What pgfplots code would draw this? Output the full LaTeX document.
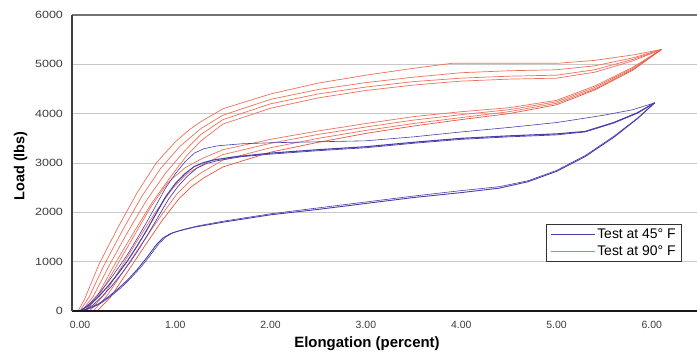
\documentclass[border=0pt]{standalone}
\usepackage{fontspec}
\setmainfont{Liberation Sans}
\usepackage{pgfplots}
\pgfplotsset{compat=1.18}
\definecolor{bl}{RGB}{72,62,172}
\definecolor{rd}{RGB}{238,112,90}
\definecolor{rdd}{RGB}{230,85,65}
\definecolor{gridc}{RGB}{200,200,200}
\definecolor{tickc}{RGB}{60,60,60}
\begin{document}
\begin{tikzpicture}
\useasboundingbox (-72bp,-43bp) rectangle (625bp,311bp);
\begin{axis}[
  at={(0,0)}, anchor=south west,
  scale only axis, width=625bp, height=296bp,
  xmin=-0.084, xmax=6.474, ymin=0, ymax=6000,
  clip=false,
  axis line style={draw=none},
  xtick={0,1,2,3,4,5,6},
  xticklabels={0.00,1.00,2.00,3.00,4.00,5.00,6.00},
  ytick={0,1000,2000,3000,4000,5000,6000},
  yticklabels={0,1000,2000,3000,4000,5000,6000},
  major tick length=0pt,
  ymajorgrids, grid style={color=gridc, line width=0.9bp},
  xticklabel style={font=\fontsize{10.5}{12}\selectfont, text=tickc, yshift=-7bp},
  yticklabel style={font=\fontsize{10.5}{12}\selectfont, text=tickc, xscale=1.2, xshift=-4bp},
  xlabel={Elongation (percent)},
  ylabel={Load (lbs)},
  xlabel style={font=\fontsize{15}{17}\selectfont\bfseries, at={(axis description cs:0.472,-0.085)}, anchor=north, inner sep=0pt},
  ylabel style={font=\fontsize{14.5}{17}\selectfont\bfseries, at={(axis description cs:-0.082,0.49)}, anchor=center, rotate=0},
  legend style={at={(0.976,0.294)}, anchor=north east, draw=black!80, line width=0.6bp,
    font=\fontsize{14}{15}\selectfont, inner xsep=4bp, inner ysep=2.5bp, row sep=2bp, cells={anchor=west}},
  legend image code/.code={\draw[#1, line width=1.3bp] (0bp,0bp) -- (44bp,0bp);},
]
% ---- Test at 90 F (upper band) ----
\addplot[rd, line width=0.7bp, forget plot] coordinates {(-0.02,0)(0.05,250)(0.2,950)(0.4,1700)(0.6,2400)(0.8,3000)(1.0,3430)(1.15,3680)(1.27,3840)(1.5,4100)(2.0,4400)(2.5,4620)(3.0,4780)(3.5,4920)(3.9,5020)(4.5,5020)(5.0,5020)(5.4,5080)(5.8,5190)(6.1,5300)};
\addplot[rd, line width=0.7bp, forget plot] coordinates {(0.0,0)(0.1,300)(0.25,920)(0.45,1650)(0.65,2330)(0.85,2900)(1.05,3340)(1.27,3700)(1.5,3970)(2.0,4290)(2.5,4490)(3.0,4630)(3.5,4740)(4.0,4830)(4.5,4870)(5.0,4890)(5.4,4970)(5.8,5130)(6.1,5300)};
\addplot[rd, line width=0.7bp, forget plot] coordinates {(0.02,0)(0.14,300)(0.3,900)(0.5,1600)(0.7,2250)(0.9,2800)(1.1,3250)(1.27,3580)(1.5,3880)(2.0,4200)(2.5,4400)(3.0,4540)(3.5,4650)(4.0,4720)(4.5,4760)(5.0,4780)(5.4,4890)(5.8,5100)(6.1,5300)};
\addplot[rd, line width=0.7bp, forget plot] coordinates {(0.05,0)(0.18,300)(0.35,900)(0.55,1550)(0.75,2180)(0.95,2720)(1.12,3150)(1.27,3450)(1.5,3790)(2.0,4110)(2.5,4320)(3.0,4470)(3.5,4580)(4.0,4660)(4.5,4700)(5.0,4720)(5.4,4840)(5.8,5070)(6.1,5300)};
% ---- Test at 90 F (lower band) ----
\addplot[rd, line width=0.7bp, forget plot] coordinates {(0.06,0)(0.2,320)(0.38,900)(0.56,1500)(0.74,2100)(0.92,2600)(1.1,2900)(1.27,3080)(1.5,3270)(2.0,3480)(2.5,3650)(3.0,3800)(3.5,3940)(4.0,4040)(4.5,4120)(5.0,4270)(5.4,4560)(5.8,4940)(6.1,5300)};
\addplot[rd, line width=0.7bp, forget plot] coordinates {(0.1,0)(0.25,320)(0.43,880)(0.61,1450)(0.79,2000)(0.97,2480)(1.12,2780)(1.27,2950)(1.5,3170)(2.0,3400)(2.5,3580)(3.0,3730)(3.5,3870)(4.0,3980)(4.5,4080)(5.0,4240)(5.4,4530)(5.8,4920)(6.1,5300)};
\addplot[rd, line width=0.7bp, forget plot] coordinates {(0.14,0)(0.28,300)(0.47,850)(0.66,1400)(0.85,1930)(1.02,2380)(1.15,2630)(1.27,2800)(1.5,3060)(2.0,3310)(2.5,3500)(3.0,3660)(3.5,3800)(4.0,3920)(4.5,4040)(5.0,4210)(5.4,4500)(5.8,4900)(6.1,5300)};
\addplot[rdd, line width=0.7bp, forget plot] coordinates {(0.18,0)(0.32,280)(0.5,800)(0.68,1320)(0.86,1830)(1.04,2280)(1.17,2520)(1.3,2700)(1.5,2920)(2.0,3220)(2.5,3420)(3.0,3600)(3.5,3750)(4.0,3880)(4.5,4000)(5.0,4180)(5.4,4480)(5.8,4880)(6.1,5300)};
% ---- Test at 45 F ----
\addplot[bl, line width=0.9bp, forget plot] coordinates {(0,0)(0.1,60)(0.2,150)(0.3,290)(0.4,450)(0.5,630)(0.6,840)(0.7,1080)(0.8,1340)(0.87,1480)(0.95,1570)(1.05,1630)(1.2,1700)(1.5,1800)(2.0,1950)(2.5,2060)(3.0,2180)(3.5,2300)(4.0,2400)(4.4,2490)(4.7,2620)(5.0,2830)(5.3,3130)(5.6,3520)(5.85,3900)(6.03,4220)};
\addplot[bl, line width=0.6bp, forget plot] coordinates {(0.03,0)(0.13,70)(0.23,170)(0.33,310)(0.43,470)(0.53,660)(0.63,870)(0.73,1110)(0.83,1370)(0.9,1500)(0.98,1590)(1.1,1660)(1.25,1730)(1.5,1820)(2.0,1970)(2.5,2090)(3.0,2210)(3.5,2330)(4.0,2440)(4.4,2520)(4.7,2640)(5.0,2850)(5.3,3150)(5.6,3540)(5.85,3910)(6.03,4220)};
\addplot[bl, line width=1.1bp, forget plot] coordinates {(0,0)(0.1,120)(0.2,300)(0.3,520)(0.4,760)(0.5,1020)(0.6,1320)(0.7,1640)(0.8,1980)(0.9,2320)(1.0,2580)(1.1,2780)(1.2,2930)(1.3,3010)(1.4,3060)(1.6,3120)(2.0,3200)(2.5,3270)(3.0,3330)(3.5,3420)(4.0,3500)(4.5,3550)(5.0,3590)(5.3,3640)(5.6,3820)(5.85,4020)(6.03,4220)};
\addplot[bl, line width=0.7bp, forget plot] coordinates {(0.03,0)(0.13,110)(0.23,290)(0.33,500)(0.43,740)(0.53,1000)(0.63,1290)(0.73,1610)(0.83,1940)(0.93,2270)(1.03,2530)(1.13,2740)(1.23,2900)(1.33,2990)(1.45,3050)(1.7,3130)(2.0,3180)(2.5,3250)(3.0,3310)(3.5,3400)(4.0,3480)(4.5,3530)(5.0,3570)(5.3,3630)(5.6,3810)(5.85,4010)(6.03,4220)};
\addplot[bl, line width=0.6bp, forget plot] coordinates {(0,0)(0.1,150)(0.2,360)(0.3,600)(0.4,870)(0.5,1150)(0.6,1470)(0.7,1800)(0.8,2150)(0.9,2500)(1.0,2780)(1.1,3020)(1.2,3200)(1.3,3290)(1.45,3350)(1.7,3390)(2.0,3410)(2.5,3430)(3.0,3450)(3.5,3530)(4.0,3630)(4.5,3720)(5.0,3820)(5.5,3970)(5.8,4080)(6.03,4220)};
% frame lines
\draw[line width=2bp, color=black!55] (rel axis cs:0,1) -- (rel axis cs:1,1);
\draw[line width=1.6bp, color=black!90] (rel axis cs:0,0) -- (rel axis cs:1,0);
\draw[line width=1.2bp, color=black!75] (rel axis cs:0,0) -- (rel axis cs:0,1);
\addlegendimage{bl}
\addlegendentry{Test at 45° F}
\addlegendimage{rd}
\addlegendentry{Test at 90° F}
\end{axis}
\end{tikzpicture}
\end{document}
